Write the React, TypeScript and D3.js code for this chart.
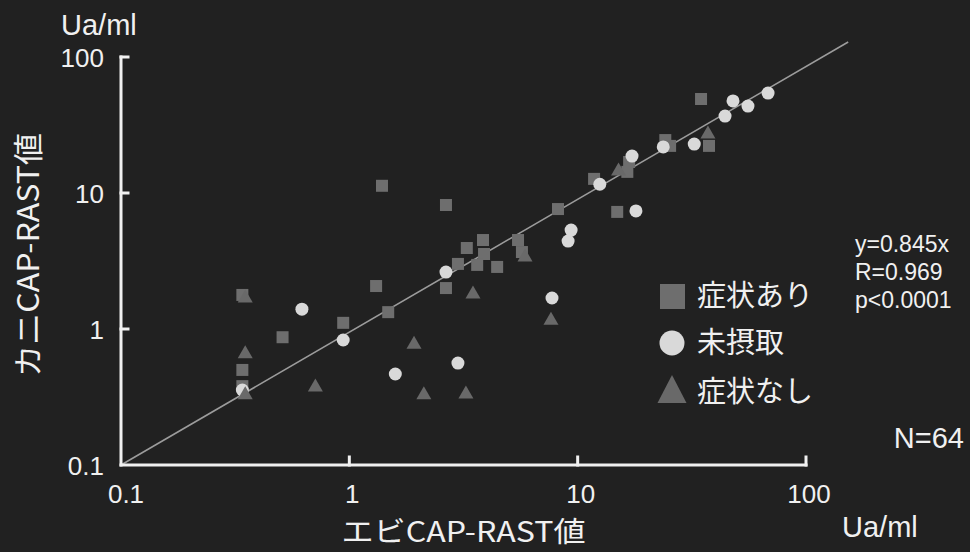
import React from "react";
import * as d3 from "d3";

// ---- data ----
const symptomatic: [number, number][] = [
  [0.34, 1.78], [0.34, 0.5], [0.34, 0.38], [0.51, 0.87], [0.94, 1.11],
  [1.31, 2.07], [1.39, 11.3], [1.48, 1.33], [2.65, 8.16], [2.65, 2.0],
  [2.99, 3.01], [3.27, 3.94], [3.85, 4.51], [3.89, 3.56], [3.63, 2.96],
  [4.44, 2.86], [5.48, 4.51], [5.7, 3.68], [8.2, 7.62], [11.8, 12.7],
  [14.9, 7.26], [16.5, 14.3], [16.8, 16.9], [24.2, 24.5], [25.4, 22.2],
  [34.7, 49.1], [37.6, 22.2],
];
const notEaten: [number, number][] = [
  [0.34, 0.356], [0.62, 1.4], [0.94, 0.83], [1.59, 0.467], [2.65, 2.62],
  [2.99, 0.562], [7.72, 1.69], [9.08, 4.43], [9.36, 5.34], [12.5, 11.6],
  [17.3, 18.7], [18.0, 7.38], [23.7, 21.8], [32.4, 22.9], [44.2, 36.8],
  [47.9, 47.5], [55.7, 43.6], [68.2, 54.3],
];
const noSymptom: [number, number][] = [
  [0.35, 1.75], [0.35, 0.68], [0.35, 0.34], [0.71, 0.387], [1.92, 0.8],
  [2.12, 0.34], [3.24, 0.344], [3.48, 1.87], [5.88, 3.5], [7.64, 1.2],
  [15.1, 15.0], [37.2, 28.1],
];
const fitLine: [number, number][] = [[0.1, 0.1], [153, 129]];
const tickValues = [0.1, 1, 10, 100];
const tickLabels = ["0.1", "1", "10", "100"];
const legendLabels = ["症状あり", "未摂取", "症状なし"];
const statsLines = ["y=0.845x", "R=0.969", "p<0.0001"];
const nLabel = "N=64";
const unitLabel = "Ua/ml";
const xTitle = "エビCAP-RAST値";
const yTitle = "カニCAP-RAST値";

const W = 970;
const H = 552;
const FONT = "'Liberation Sans', Arial, Helvetica, sans-serif";
const CJK = "'Noto Sans CJK JP', 'Liberation Sans', sans-serif";

const SQ = "#6e6e6e";
const CI = "#d9d9d9";
const TR = "#696969";
const AX = "#f0f0f0";

function triPath(cx: number, cy: number, w: number, h: number) {
  return `M${cx},${cy - h / 2}L${cx + w / 2},${cy + h / 2}L${cx - w / 2},${cy + h / 2}Z`;
}

export default function App() {
  const x = d3.scaleLog().domain([0.1, 100]).range([121, 806]);
  const y = d3.scaleLog().domain([0.1, 100]).range([465, 57]);
  const line = d3
    .line<[number, number]>()
    .x((d) => x(d[0]))
    .y((d) => y(d[1]));

  const x0 = x(0.1);
  const y0 = y(0.1);

  return (
    <svg
      width={W}
      height={H}
      viewBox={`0 0 ${W} ${H}`}
      style={{ position: "absolute", left: 0, top: 0, display: "block" }}
    >
      <rect x={0} y={0} width={W} height={H} fill="#212121" />

      {/* regression line */}
      <path d={line(fitLine) || ""} stroke="#9c9c9c" strokeWidth={1.6} fill="none" />

      {/* axes */}
      <g stroke={AX} strokeWidth={3} fill="none" strokeLinecap="square">
        <line x1={x0} y1={y(100)} x2={x0} y2={y0} />
        <line x1={x0} y1={y0} x2={x(100)} y2={y0} />
        {tickValues.slice(1).map((v) => (
          <line key={"yt" + v} x1={x0} y1={y(v)} x2={x0 + 7} y2={y(v)} />
        ))}
        {tickValues.slice(1).map((v) => (
          <line key={"xt" + v} x1={x(v)} y1={y0} x2={x(v)} y2={y0 - 8} />
        ))}
      </g>

      {/* tick labels */}
      <g fill={AX} fontFamily={FONT} fontSize={26}>
        {tickValues.map((v, i) => (
          <text key={"yl" + v} x={x0 - 17} y={y(v) + 10} textAnchor="end">
            {tickLabels[i]}
          </text>
        ))}
        {tickValues.map((v, i) => (
          <text key={"xl" + v} x={x(v) + (i === 0 ? 5 : 3)} y={503} textAnchor="middle">
            {tickLabels[i]}
          </text>
        ))}
      </g>

      {/* axis titles */}
      <text x={61} y={35} fill={AX} fontFamily={FONT} fontSize={29}>
        {unitLabel}
      </text>
      <text x={842} y={537} fill={AX} fontFamily={FONT} fontSize={29}>
        {unitLabel}
      </text>
      <text
        x={(x0 + x(100)) / 2}
        y={542}
        fill={AX}
        fontFamily={CJK}
        fontSize={28}
        textAnchor="middle"
        textLength={244}
        lengthAdjust="spacingAndGlyphs"
      >
        {xTitle}
      </text>
      <text
        transform={`translate(39,${(y(100) + y0) / 2 - 6}) rotate(-90)`}
        fill={AX}
        fontFamily={CJK}
        fontSize={30}
        textAnchor="middle"
        textLength={244}
        lengthAdjust="spacingAndGlyphs"
      >
        {yTitle}
      </text>

      {/* points */}
      <g fill={SQ}>
        {symptomatic.map((d, i) => (
          <rect key={"s" + i} x={x(d[0]) - 6} y={y(d[1]) - 6} width={12} height={12} />
        ))}
      </g>
      <g fill={CI}>
        {notEaten.map((d, i) => (
          <circle key={"c" + i} cx={x(d[0])} cy={y(d[1])} r={6.5} />
        ))}
      </g>
      <g fill={TR}>
        {noSymptom.map((d, i) => (
          <path key={"t" + i} d={triPath(x(d[0]), y(d[1]), 15, 13)} />
        ))}
      </g>

      {/* legend */}
      <rect x={660} y={284} width={25} height={25} fill={SQ} />
      <circle cx={672} cy={343} r={12.5} fill={CI} />
      <path d={triPath(672, 389, 29, 28)} fill={TR} />
      <g fill={AX} fontFamily={CJK} fontSize={29}>
        <text x={697} y={306}>{legendLabels[0]}</text>
        <text x={697} y={353}>{legendLabels[1]}</text>
        <text x={697} y={402}>{legendLabels[2]}</text>
      </g>

      {/* stats */}
      <g fill={AX} fontFamily={FONT} fontSize={23}>
        {statsLines.map((s, i) => (
          <text key={s} x={855} y={252 + i * 28}>
            {s}
          </text>
        ))}
      </g>
      <text x={964} y={448} fill={AX} fontFamily={FONT} fontSize={29} textAnchor="end">
        {nLabel}
      </text>
    </svg>
  );
}
